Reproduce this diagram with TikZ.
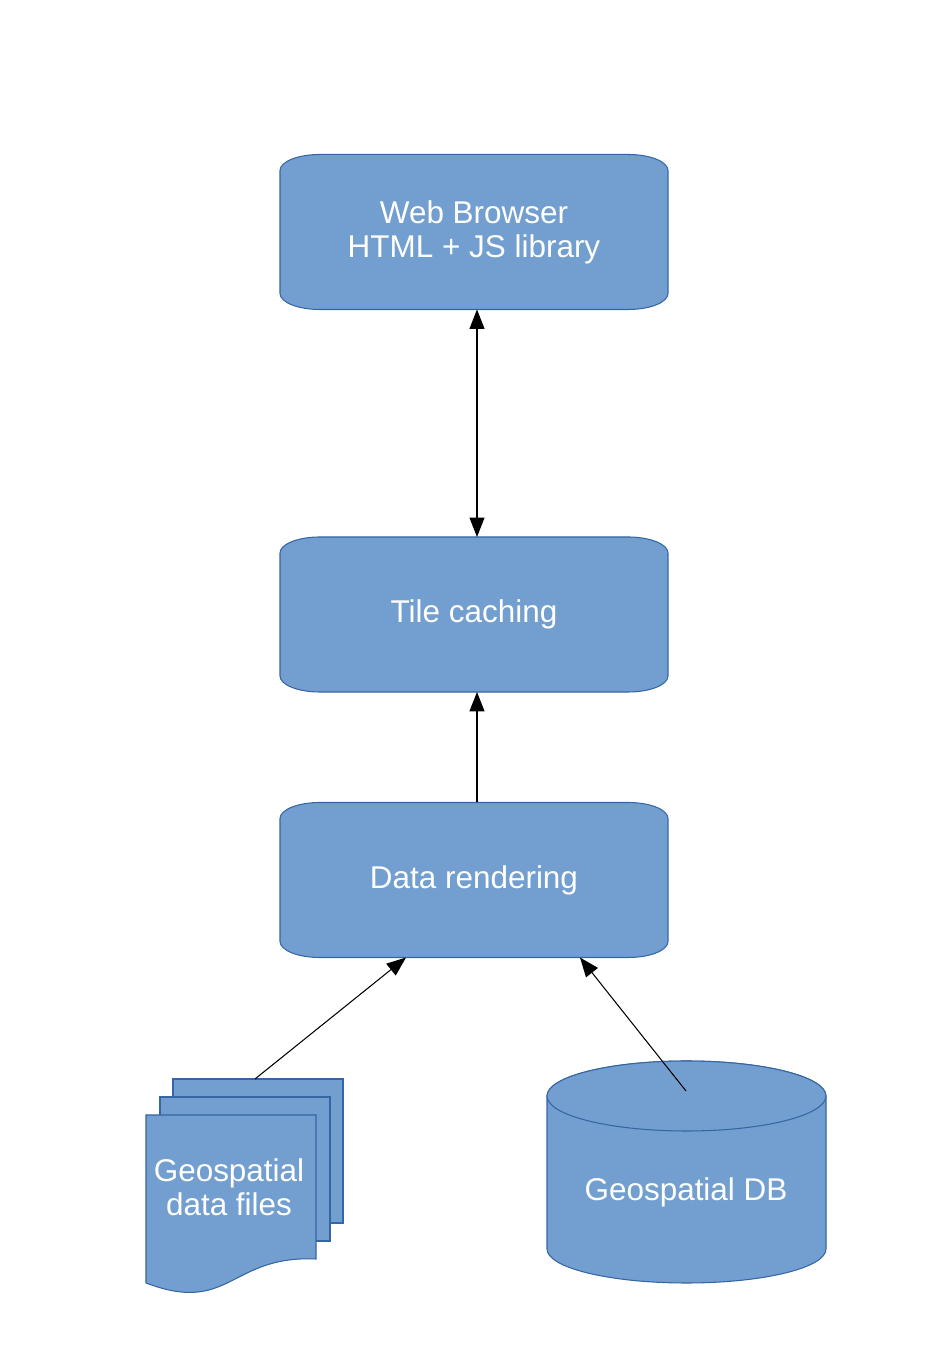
\documentclass[tikz,border=0pt]{standalone}
\usepackage{fontspec}
\setmainfont{Liberation Sans}
\usetikzlibrary{arrows.meta,calc,backgrounds}

\definecolor{boxblue}{HTML}{729FCF}
\definecolor{boxline}{HTML}{3465A4}

\tikzset{
  box/.style={minimum width=7.74cm, minimum height=3.08cm, inner sep=0pt,
    text=white, align=center, font=\fontsize{17.9}{19.3}\selectfont},
  label/.style={text=white, align=center, inner sep=0pt,
    font=\fontsize{17.9}{19.3}\selectfont},
  blue shape/.style={fill=boxblue, draw=boxline, line width=0.6pt},
}

\begin{document}
\begin{tikzpicture}[x=0.02cm, y=0.02cm, line width=0.6pt,
  >={Triangle[length=11pt,width=8.5pt]}]

\useasboundingbox (0,0) rectangle (951,1345);

% the three process boxes
\node[box] (browser) at (474,1113) {Web Browser\\HTML + JS library};
\node[box] (cache) at (474,730.5) {Tile caching};
\node[box] (render) at (474,465) {Data rendering};

\begin{scope}[on background layer]
\foreach \n in {browser,cache,render}
  \draw[blue shape] ($(\n.north west)+(40,0)$) -- ($(\n.north east)+(-40,0)$)
    arc[start angle=90, end angle=0, x radius=40, y radius=16]
    -- ($(\n.south east)+(0,16)$)
    arc[start angle=0, end angle=-90, x radius=40, y radius=16]
    -- ($(\n.south west)+(40,0)$)
    arc[start angle=270, end angle=180, x radius=40, y radius=16]
    -- ($(\n.north west)+(0,-16)$)
    arc[start angle=180, end angle=90, x radius=40, y radius=16] -- cycle;
\end{scope}

% stack of data files
\draw[blue shape] (173,266) rectangle (343,122);
\draw[blue shape] (160,248) rectangle (330,104);
\draw[blue shape] (146,230) -- (316,230) -- (316,86)
  .. controls (230,90) and (230,30) .. (146,62) -- cycle;
\node[label] (files) at (229,158) {Geospatial\\ data files};
\coordinate (filestop) at (255,266);

% database cylinder
\draw[blue shape] (547,249) -- (547,96)
  arc[start angle=180, end angle=360, x radius=139.5, y radius=34]
  -- (826,249)
  arc[start angle=0, end angle=180, x radius=139.5, y radius=35] -- cycle;
\draw[blue shape] (686.5,249) ellipse [x radius=139.5, y radius=35];
\node[label] (db) at (686,153) {Geospatial DB};
\coordinate (dbtop) at (686,254);

% connectors
\draw[<->] ([xshift=0.06cm]browser.south) -- ([xshift=0.06cm]cache.north);
\draw[->] ([xshift=0.06cm]render.north) -- ([xshift=0.06cm]cache.south);
\draw[->] (filestop) -- ([xshift=-1.36cm]render.south);
\draw[->] (dbtop) -- ([xshift=2.12cm]render.south);

\end{tikzpicture}
\end{document}
